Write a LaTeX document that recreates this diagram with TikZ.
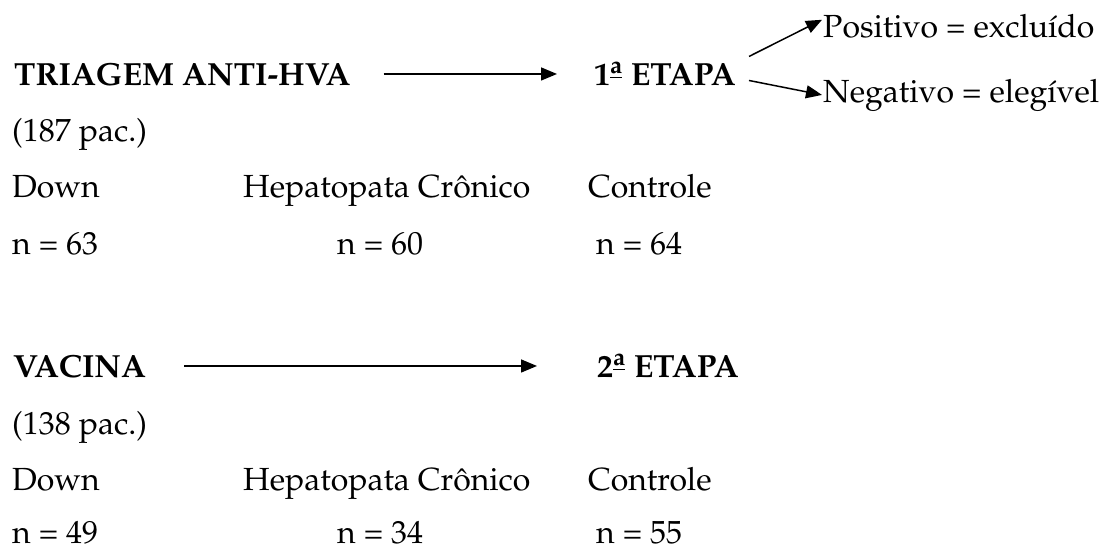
\documentclass[tikz,border=0pt]{standalone}
\usepackage[T1]{fontenc}
\usepackage{mathpazo}
\usetikzlibrary{arrows.meta, positioning}

\tikzset{
  txt/.style={inner sep=0pt, anchor=base west, font=\fontsize{32}{38}\selectfont},
  head/.style={txt, font=\fontsize{32}{38}\selectfont\bfseries},
  seta/.style={-{Triangle[length=16pt,width=13pt]}, line width=1.5pt},
}
\newcommand{\ordin}[1]{#1\textsuperscript{\underline{a}}}

\begin{document}
\begin{tikzpicture}[x=1pt, y=-1pt]
\useasboundingbox (0,0) rectangle (1107,554);
% 1a etapa
\node[head] (triagem) at (14,85) {TRIAGEM ANTI-HVA};
\node[head] (etapa1) at (594,85) {\ordin{1} ETAPA};
\node[txt] (positivo) at (823,37) {Positivo = exclu\'{\i}do};
\node[txt] (negativo) at (823,102) {Negativo = eleg\'{\i}vel};
\node[txt] (pac1) at (12,141) {(187 pac.)};
\node[txt] (down1) at (12,197) {Down};
\node[txt] (hepato1) at (243,197) {Hepatopata Cr\^onico};
\node[txt] (contr1) at (588,197) {Controle};
\node[txt] (nd1) at (12,254) {n = 63};
\node[txt] (nh1) at (337,254) {n = 60};
\node[txt] (nc1) at (596,254) {n = 64};

\draw[seta] ([xshift=33pt]triagem.east) -- ([xshift=-37pt]triagem.east -| etapa1.west);
\draw[seta] ([xshift=13pt,yshift=17pt]etapa1.east) -- ([xshift=-1pt,yshift=6pt]positivo.west);
\draw[seta] ([xshift=13pt,yshift=-7pt]etapa1.east) -- ([xshift=-1pt]negativo.west);

% 2a etapa
\node[head] (vacina) at (13,377) {VACINA};
\node[head] (etapa2) at (597,377) {\ordin{2} ETAPA};
\node[txt] (pac2) at (12,434) {(138 pac.)};
\node[txt] (down2) at (12,490) {Down};
\node[txt] (hepato2) at (243,490) {Hepatopata Cr\^onico};
\node[txt] (contr2) at (588,490) {Controle};
\node[txt] (nd2) at (12,543) {n = 49};
\node[txt] (nh2) at (337,543) {n = 34};
\node[txt] (nc2) at (596,543) {n = 55};

\draw[seta] ([xshift=38pt]vacina.east) -- ([xshift=-60pt]vacina.east -| etapa2.west);
\end{tikzpicture}
\end{document}
